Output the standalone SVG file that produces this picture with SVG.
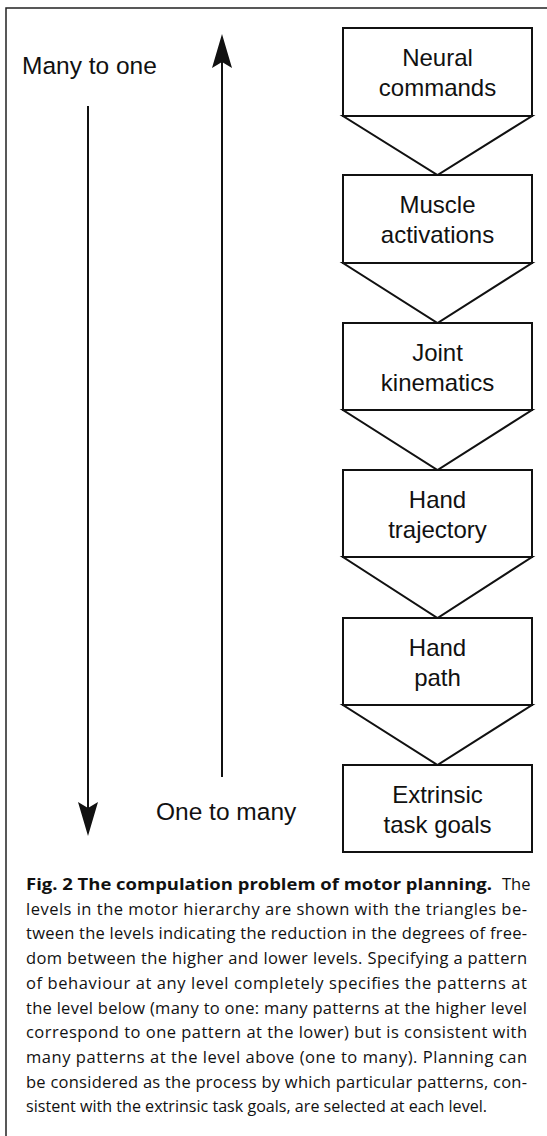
<svg xmlns="http://www.w3.org/2000/svg" width="547" height="1136" viewBox="0 0 547 1136">
<style>
.box{fill:#fff;stroke:#111;stroke-width:2}
.tri{fill:none;stroke:#111;stroke-width:2;stroke-linejoin:miter}
.lbl{font-family:"Liberation Sans",Arial,sans-serif;font-size:24px;fill:#111;text-anchor:middle}
.side{font-family:"Liberation Sans",Arial,sans-serif;font-size:24.5px;fill:#111}
.shaft{stroke:#111;stroke-width:2}
.cap{font-family:"Open Sans","Noto Sans",sans-serif;font-size:16.5px;fill:#111}
.capb{font-weight:bold}
.frame{stroke:#222;stroke-width:1.5;fill:none}
</style>
<defs>
<marker id="head" markerUnits="userSpaceOnUse" orient="auto" refX="0" refY="0" markerWidth="40" markerHeight="30" viewBox="-10 -15 40 30" overflow="visible">
<path d="M28,0 L-6,-10 L0,0 L-6,10 Z" fill="#111"/>
</marker>
</defs>
<path class="frame" d="M6,1136 L6,8 L547,8"/>
<g id="axes">
<line class="shaft" x1="222" y1="777" x2="222" y2="62" marker-end="url(#head)"/>
<line class="shaft" x1="88" y1="106" x2="88" y2="808" marker-end="url(#head)"/>
<text class="side" x="22" y="74">Many to one</text>
<text class="side" x="156" y="820">One to many</text>
</g>
<g id="connectors">
<polygon class="tri" points="343,116 532,116 437.5,175"/>
<polygon class="tri" points="343,263 532,263 437.5,323"/>
<polygon class="tri" points="343,410 532,410 437.5,470"/>
<polygon class="tri" points="343,557 532,557 437.5,618"/>
<polygon class="tri" points="343,705 532,705 437.5,765"/>
</g>
<g id="neural">
<rect class="box" x="343" y="28" width="189" height="88"/>
<text class="lbl" x="437.5" y="66">Neural</text>
<text class="lbl" x="437.5" y="96">commands</text>
</g>
<g id="muscle">
<rect class="box" x="343" y="175" width="189" height="88"/>
<text class="lbl" x="437.5" y="213">Muscle</text>
<text class="lbl" x="437.5" y="243">activations</text>
</g>
<g id="joint">
<rect class="box" x="343" y="323" width="189" height="87"/>
<text class="lbl" x="437.5" y="361">Joint</text>
<text class="lbl" x="437.5" y="391">kinematics</text>
</g>
<g id="trajectory">
<rect class="box" x="343" y="470" width="189" height="87"/>
<text class="lbl" x="437.5" y="508">Hand</text>
<text class="lbl" x="437.5" y="538">trajectory</text>
</g>
<g id="path">
<rect class="box" x="343" y="618" width="189" height="87"/>
<text class="lbl" x="437.5" y="656">Hand</text>
<text class="lbl" x="437.5" y="686">path</text>
</g>
<g id="goals">
<rect class="box" x="343" y="765" width="189" height="87"/>
<text class="lbl" x="437.5" y="803">Extrinsic</text>
<text class="lbl" x="437.5" y="833">task goals</text>
</g>
<g id="caption" class="cap">
<text x="26" y="890"><tspan class="capb" textLength="466" lengthAdjust="spacingAndGlyphs">Fig. 2 The compulation problem of motor planning.</tspan></text>
<text x="502" y="890">The</text>
<text x="26" y="914.7" textLength="501" lengthAdjust="spacing">levels in the motor hierarchy are shown with the triangles be-</text>
<text x="26" y="939.4" textLength="501" lengthAdjust="spacing">tween the levels indicating the reduction in the degrees of free-</text>
<text x="26" y="964.1" textLength="501" lengthAdjust="spacing">dom between the higher and lower levels. Specifying a pattern</text>
<text x="26" y="988.8" textLength="501" lengthAdjust="spacing">of behaviour at any level completely specifies the patterns at</text>
<text x="26" y="1013.5" textLength="501" lengthAdjust="spacing">the level below (many to one: many patterns at the higher level</text>
<text x="26" y="1038.2" textLength="501" lengthAdjust="spacing">correspond to one pattern at the lower) but is consistent with</text>
<text x="26" y="1062.9" textLength="501" lengthAdjust="spacing">many patterns at the level above (one to many). Planning can</text>
<text x="26" y="1087.6" textLength="501" lengthAdjust="spacing">be considered as the process by which particular patterns, con-</text>
<text x="26" y="1112.3" textLength="461" lengthAdjust="spacingAndGlyphs">sistent with the extrinsic task goals, are selected at each level.</text>
</g>
</svg>
